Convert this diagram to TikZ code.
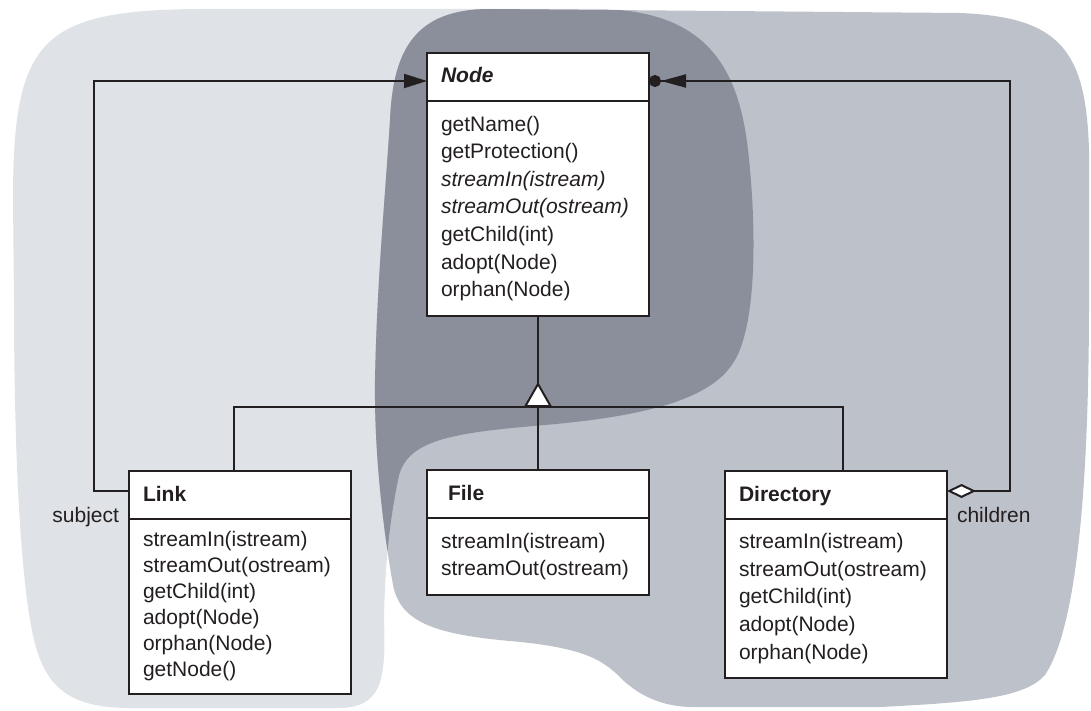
\documentclass[tikz,border=0pt]{standalone}
\usepackage{fontspec}
\setmainfont{Liberation Sans}
\usetikzlibrary{arrows.meta}

\definecolor{proxygray}{HTML}{DFE2E7}
\definecolor{compgray}{HTML}{BDC1C9}
\definecolor{overlapgray}{HTML}{8A8F9B}
\definecolor{umlline}{HTML}{231F20}

\newcommand{\umlfont}{\fontsize{10.5pt}{13.8pt}\selectfont}
% outlines of the two pattern regions (pixel units)
\newcommand{\proxyblob}{(14,300) -- (13,200) .. controls (13,40) and (40,10) .. (200,9)
    -- (600,9) .. controls (700,11) and (738,60) .. (748,150)
    .. controls (756,220) and (758,320) .. (735,360)
    .. controls (715,395) and (660,415) .. (545,425)
    .. controls (450,433) and (405,440) .. (398,480)
    .. controls (390,520) and (385,560) .. (384,620)
    .. controls (386,680) and (382,707) .. (340,708)
    -- (130,708) .. controls (60,708) and (40,680) .. (30,620)
    .. controls (20,560) and (14,450) .. (14,300) -- cycle}
\newcommand{\compblob}{(490,9) -- (960,13) .. controls (1060,17) and (1086,50) .. (1089,150)
    -- (1089,300) .. controls (1089,500) and (1075,630) .. (1045,675)
    .. controls (1025,697) and (980,702) .. (880,707)
    -- (690,707) .. controls (660,706) and (640,695) .. (625,682)
    .. controls (605,662) and (590,648) .. (510,641)
    .. controls (430,634) and (400,620) .. (393,585)
    .. controls (385,540) and (374,460) .. (375,380)
    .. controls (377,280) and (385,200) .. (390,120)
    .. controls (393,50) and (415,9) .. (490,9) -- cycle}

\begin{document}
\begin{tikzpicture}[x=0.5pt,y=-0.5pt,line width=1pt,color=umlline,font=\umlfont,
    classhead/.style={draw,fill=white,anchor=north west,minimum height=24pt,
        text width=97pt,inner xsep=7pt,inner ysep=0pt,outer sep=0pt,align=left,
        text height=8pt,text depth=2pt,font=\umlfont\bfseries},
    classbody/.style={draw,fill=white,anchor=north,text width=97pt,
        inner xsep=7pt,outer sep=0pt,align=left},
    rolelabel/.style={inner sep=0pt},
    assoc/.style={-{Triangle[length=11.5pt,width=7pt]}},
    owner/.style={{Diamond[fill=white,length=14.5pt,width=7pt]}-{Triangle[length=12.5pt,width=6.5pt]Circle[length=6pt]}},
    gen/.style={-{Triangle[fill=white,length=12.5pt,width=14pt]}}]
    \useasboundingbox (0,0) rectangle (1091,711);

    % Shaded regions: Proxy (left), Composite (right), overlap
    \fill[proxygray] \proxyblob;
    \fill[compgray] \compblob;
    \begin{scope}
        \clip \proxyblob;
        \fill[overlapgray] \compblob;
    \end{scope}

    % Classes
    \node[classhead] (node-h) at (427,53) {\itshape Node};
    \node[classbody,minimum height=107.5pt] (node-b) at (node-h.south)
        {getName()\\getProtection()\\\textit{streamIn(istream)}\\\textit{streamOut(ostream)}\\getChild(int)\\adopt(Node)\\orphan(Node)};

    \node[classhead] (link-h) at (129,471) {Link};
    \node[classbody,minimum height=87.5pt,font=\fontsize{10.5pt}{13pt}\selectfont] (link-b) at (link-h.south)
        {streamIn(istream)\\streamOut(ostream)\\getChild(int)\\adopt(Node)\\orphan(Node)\\getNode()};

    \node[classhead] (file-h) at (427,470) {\ File};
    \node[classbody,minimum height=38.5pt] (file-b) at (file-h.south)
        {streamIn(istream)\\streamOut(ostream)};

    \node[classhead] (dir-h) at (725,471) {Directory};
    \node[classbody,minimum height=79.5pt] (dir-b) at (dir-h.south)
        {streamIn(istream)\\streamOut(ostream)\\getChild(int)\\adopt(Node)\\orphan(Node)};

    % Bends of the connectors
    \coordinate (hub) at (538,407);
    \coordinate (subj-turn) at (94,81);
    \coordinate (child-turn) at (1010,81);

    % Inheritance
    \draw (node-b.south) -- (hub);
    \draw ([xshift=-3.25pt]link-h.north) |- (hub) -| ([xshift=3.5pt]dir-h.north);
    \draw (file-h.north) -- (hub);
    \draw[gen] (hub) -- ++(0,-25);

    % Link -> Node (subject)
    \draw[assoc] ([yshift=2pt]link-h.west) -| (subj-turn) -- ([yshift=-2pt]node-h.west);
    \node[rolelabel,anchor=base east] (subj-lbl) at ([xshift=-4.5pt,yshift=-1.5pt]link-h.south west) {subject};

    % Directory -> Node (children)
    \draw[owner] ([yshift=2pt]dir-h.east) -| (child-turn) -- ([yshift=-2pt]node-h.east);
    \node[rolelabel,anchor=base west] (child-lbl) at ([xshift=4.5pt,yshift=-1.5pt]dir-h.south east) {children};
\end{tikzpicture}
\end{document}
